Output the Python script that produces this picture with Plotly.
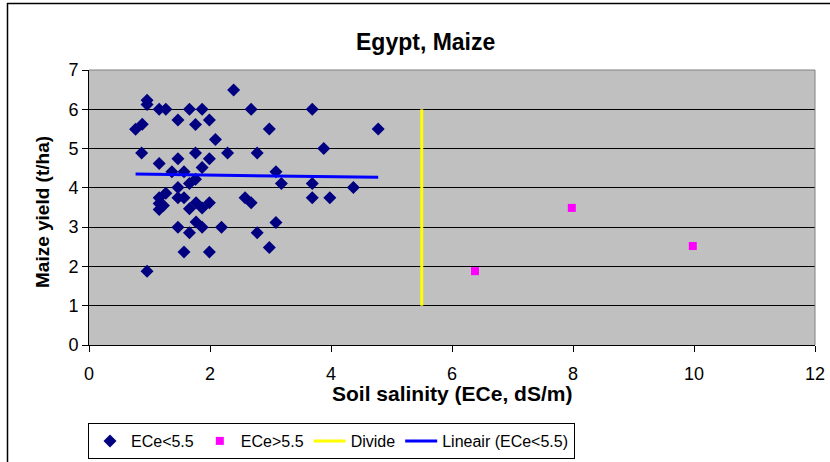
import plotly.graph_objects as go

# ECe < 5.5 observations
low_x = [0.77, 0.88, 0.87, 0.96, 0.96, 0.96, 1.16, 1.27, 1.16, 1.27, 1.16, 1.16, 1.23, 1.16,
         1.47, 1.47, 1.37, 1.57, 1.47, 1.47, 1.57, 1.47, 1.57, 1.66, 1.76, 1.76, 1.76, 1.66,
         1.77, 1.66, 1.77, 1.66, 1.87, 1.87, 1.87, 1.87, 1.99, 1.99, 1.99, 1.99, 2.09, 2.19,
         2.29, 2.39, 2.58, 2.68, 2.68, 2.78, 2.78, 2.98, 2.98, 3.09, 3.09, 3.18, 3.69, 3.69,
         3.69, 3.88, 3.98, 4.37, 4.78]
low_y = [5.49, 5.62, 4.89, 6.23, 6.12, 1.88, 6.0, 6.0, 4.62, 3.86, 3.75, 3.6, 3.55, 3.45,
         5.73, 4.74, 4.41, 4.41, 4.01, 3.75, 3.75, 3.0, 2.37, 6.0, 5.61, 4.89, 4.22, 4.11,
         3.62, 3.47, 3.13, 2.86, 6.0, 4.52, 3.49, 3.0, 5.73, 4.74, 3.62, 2.37, 5.23, 3.0,
         4.89, 6.49, 3.75, 3.62, 6.0, 4.89, 2.86, 5.5, 2.48, 4.41, 3.12, 4.11, 6.0, 4.11,
         3.75, 5.0, 3.75, 4.01, 5.5]

# ECe > 5.5 observations
high_x = [6.38, 7.98, 9.98]
high_y = [1.88, 3.49, 2.52]

# Divide line
divide_x = [5.5, 5.5]
divide_y = [1, 6]

# Linear trend (ECe<5.5)
trend_x = [0.77, 4.78]
trend_y = [4.35, 4.27]

x_ticks = [0, 2, 4, 6, 8, 10, 12]
y_ticks = [0, 1, 2, 3, 4, 5, 6, 7]

FONT = "Arial, 'Liberation Sans', sans-serif"

fig = go.Figure()
fig.add_trace(go.Scatter(x=low_x, y=low_y, mode="markers", name="ECe<5.5",
                         marker=dict(symbol="diamond", size=10, color="#000080")))
fig.add_trace(go.Scatter(x=high_x, y=high_y, mode="markers", name="ECe>5.5",
                         marker=dict(symbol="square", size=8, color="#FF00FF")))
fig.add_trace(go.Scatter(x=divide_x, y=divide_y, mode="lines", name="Divide",
                         line=dict(color="#FFFF00", width=3)))
fig.add_trace(go.Scatter(x=trend_x, y=trend_y, mode="lines", name="Lineair (ECe<5.5)",
                         line=dict(color="#0000FF", width=3)))

L, R, T, B = 89, 15, 70, 117
W, H = 830, 462
pw, ph = W - L - R, H - T - B


def px(xp):
    return (xp - L) / pw


def py(yp):
    return (H - B - yp) / ph


fig.update_layout(
    width=W, height=H,
    margin=dict(l=L, r=R, t=T, b=B, autoexpand=False),
    paper_bgcolor="white",
    plot_bgcolor="#C0C0C0",
    font=dict(family=FONT, size=18, color="black"),
    showlegend=True,
    legend=dict(orientation="h", x=px(88), xanchor="left", y=py(423), yanchor="top",
                bordercolor="black", borderwidth=1, bgcolor="white", itemwidth=32,
                font=dict(size=16), tracegroupgap=0),
    xaxis=dict(range=[0, 12], tickvals=x_ticks, showgrid=False, zeroline=False,
               showline=True, linecolor="black", linewidth=1, ticks="outside",
               ticklen=6, tickcolor="black", tickfont=dict(size=18), automargin=False,
               ticklabelstandoff=6),
    yaxis=dict(range=[0, 7], tickvals=y_ticks, showgrid=True, gridcolor="black", gridwidth=1,
               zeroline=False, showline=True, linecolor="black", linewidth=1, ticks="outside",
               ticklen=6, tickcolor="black", tickfont=dict(size=18), automargin=False),
    annotations=[
        dict(text="<b>Egypt, Maize</b>", x=px(425), y=py(42), xref="paper", yref="paper",
             showarrow=False, font=dict(size=23), xanchor="center", yanchor="middle"),
        dict(text="<b>Soil salinity (ECe, dS/m)</b>", x=px(452), y=py(393), xref="paper",
             yref="paper", showarrow=False, font=dict(size=21), xanchor="center",
             yanchor="middle"),
        dict(text="<b>Maize yield (t/ha)</b>", x=px(42), y=py(212), xref="paper",
             yref="paper", showarrow=False, font=dict(size=19), xanchor="center",
             yanchor="middle", textangle=-90),
    ],
    shapes=[
        dict(type="line", xref="paper", yref="paper", x0=0, x1=1, y0=1, y1=1,
             line=dict(color="#808080", width=1)),
        dict(type="line", xref="paper", yref="paper", x0=1, x1=1, y0=0, y1=1,
             line=dict(color="#808080", width=1)),
        dict(type="line", xref="paper", yref="paper", x0=px(7), x1=px(840), y0=py(3.5), y1=py(3.5),
             line=dict(color="black", width=1.5)),
        dict(type="line", xref="paper", yref="paper", x0=px(7.5), x1=px(7.5), y0=py(3), y1=py(470),
             line=dict(color="black", width=1.5)),
    ],
)

fig.write_html("out.html", config={"displayModeBar": False},
               post_script="document.body.style.margin='0px';document.body.style.padding='0px';")
